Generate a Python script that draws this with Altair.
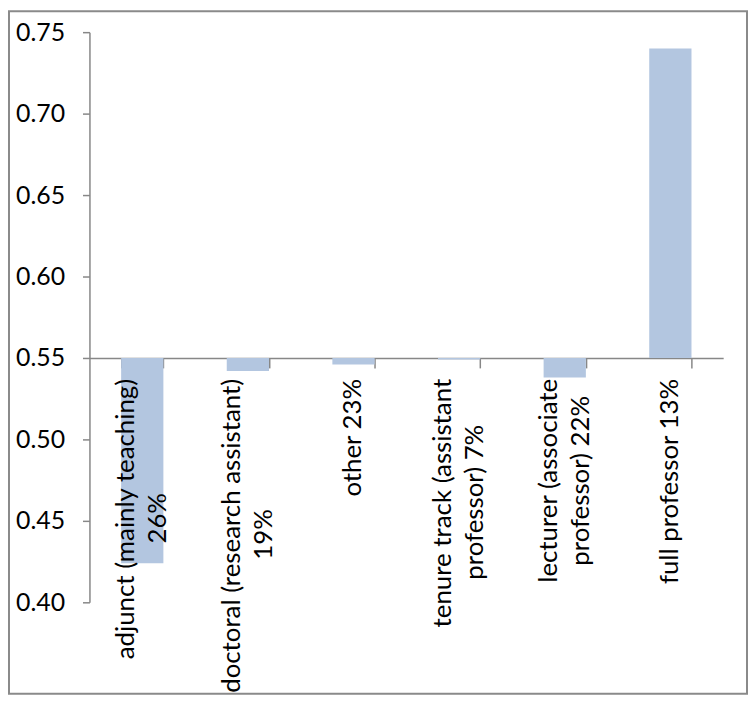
import altair as alt
import pandas as pd

# ---- data ----
categories = ["adjunct", "doctoral", "other", "tenure track", "lecturer", "full professor"]
label_line1 = [
    "adjunct  (mainly teaching)",
    "doctoral (research assistant)",
    "other 23%",
    "tenure track (assistant",
    "lecturer (associate",
    "full professor  13%",
]
label_line2 = ["26%", "19%", "", "professor)  7%", "professor)  22%", ""]
values = [0.424, 0.542, 0.546, 0.549, 0.538, 0.740]
y_ticks = [0.40, 0.45, 0.50, 0.55, 0.60, 0.65, 0.70, 0.75]
baseline_value = 0.55

GRAY = "#878787"
BAR = "#b3c6e0"
FONT = "Lato"

df = pd.DataFrame({"category": categories, "value": values,
                   "line1": label_line1, "line2": label_line2})

x_enc = alt.X(
    "category:N", sort=categories,
    scale=alt.Scale(paddingInner=0.6, paddingOuter=0.3),
    axis=alt.Axis(title=None, labels=False, tickBand="extent", tickSize=10,
                  tickColor=GRAY, tickWidth=1.5, domainColor=GRAY, domainWidth=1.5,
                  offset=-246),
)
y_scale = alt.Scale(domain=[0.40, 0.75], nice=False, zero=False)
y_axis = alt.Axis(title=None, values=y_ticks, format=".2f", grid=False,
                  domainColor=GRAY, domainWidth=1.5, tickColor=GRAY, tickWidth=1.5,
                  tickSize=7, labelFont=FONT, labelFontSize=25, labelColor="black",
                  labelPadding=18)

base = alt.Chart(df).transform_calculate(base=str(baseline_value)).encode(x=x_enc)

bars = base.mark_bar(color=BAR).encode(
    y=alt.Y("value:Q", scale=y_scale, axis=y_axis),
    y2=alt.Y2("base:Q"),
)

text1 = base.mark_text(
    angle=270, align="right", baseline="middle", dx=-21,
    dy=alt.ExprRef(expr="datum.line2 == '' ? 0 : -16"),
    font=FONT, fontSize=26, color="black",
).encode(
    y=alt.Y("base:Q", scale=y_scale, axis=y_axis),
    text=alt.Text("line1:N"),
)

text2 = base.transform_filter("datum.line2 != ''").mark_text(
    angle=270, align="center", baseline="middle", dy=16,
    dx=alt.ExprRef(expr="-(21 + length(datum.line1) * 5.4)"),
    font=FONT, fontSize=26, color="black",
).encode(
    y=alt.Y("base:Q", scale=y_scale, axis=y_axis),
    text=alt.Text("line2:N"),
)

frame = alt.Chart(pd.DataFrame({"f": [0]})).mark_rect(
    fillOpacity=0, stroke="#8a8a8a", strokeWidth=2
).encode(x=alt.value(-81), x2=alt.value(662), y=alt.value(-21), y2=alt.value(666))

chart = alt.layer(frame, bars, text1, text2).properties(
    width=638, height=574, padding=0
).configure_view(stroke=None)

chart.save("out.html", embed_options={"renderer": "svg", "actions": False})
